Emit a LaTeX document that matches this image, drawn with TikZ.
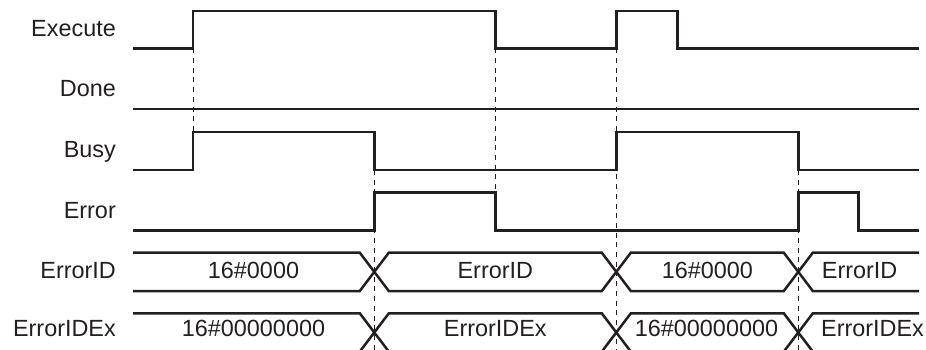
\documentclass[tikz,border=0pt]{standalone}
\usepackage{fontspec}
\setmainfont{Liberation Sans}
\definecolor{ink}{RGB}{35,31,32}
\begin{document}
\begin{tikzpicture}[x=1pt,y=-1pt,
  sig/.style={draw=ink,line width=2.5pt,line join=miter},
  guide/.style={draw=ink,line width=1pt,dash pattern=on 5pt off 4.7pt},
  lbl/.style={anchor=base east,inner sep=0pt,text=ink,font=\fontsize{23.4}{28}\selectfont},
  val/.style={anchor=base,inner sep=0pt,text=ink,font=\fontsize{23.4}{28}\selectfont},
  valw/.style={val,anchor=base west}]
\useasboundingbox (0,0) rectangle (926,349);
\clip (0,0) rectangle (926,349);

% guide lines
\draw[guide] (193,48.3) -- (193,132);
\draw[guide] (374.3,170) -- (374.3,352);
\draw[guide] (495.7,48.3) -- (495.7,192.7);
\draw[guide] (616.3,48.3) -- (616.3,352);
\draw[guide] (798.3,170) -- (798.3,352);

% labels
\node[lbl] (lExecute) at (116,36) {Execute};
\node[lbl] (lDone) at (116,96) {Done};
\node[lbl] (lBusy) at (116,157) {Busy};
\node[lbl] (lError) at (116,218.3) {Error};
\node[lbl] (lErrorID) at (116,278.3) {ErrorID};
\node[lbl] (lErrorIDEx) at (116,336.7) {ErrorIDEx};

% bit signals
\draw[sig] (133,48.3) -| (193,11) -| (495.7,48.3) -| (616.3,11) -| (677.3,48.3) -- (919,48.3);
\draw[sig] (133,109) -- (919,109);
\draw[sig] (133,170) -| (193,132) -| (374.3,170) -| (616.3,132) -| (798.3,170) -- (919,170);
\draw[sig] (133,230.3) -| (374.3,192.7) -| (495.7,230.3) -| (798.3,192.7) -| (858.7,230.3) -- (919,230.3);

% ErrorID bus
\draw[sig] (133,252.7) -- (359.8,252.7) -- (388.8,291) -- (601.8,291) -- (630.8,252.7) -- (783.8,252.7) -- (812.8,291) -- (919,291);
\draw[sig] (133,291) -- (359.8,291) -- (388.8,252.7) -- (601.8,252.7) -- (630.8,291) -- (783.8,291) -- (812.8,252.7) -- (919,252.7);
\node[val] (v1) at (253.5,278.3) {16\#0000};
\node[val] (v2) at (495.3,278.3) {ErrorID};
\node[val] (v3) at (707.3,278.3) {16\#0000};
\node[valw] (v4) at (821.7,278.3) {ErrorID};

% ErrorIDEx bus
\draw[sig] (133,313.3) -- (359.8,313.3) -- (388.8,351.6) -- (601.8,351.6) -- (630.8,313.3) -- (783.8,313.3) -- (812.8,351.6) -- (919,351.6);
\draw[sig] (133,351.6) -- (359.8,351.6) -- (388.8,313.3) -- (601.8,313.3) -- (630.8,351.6) -- (783.8,351.6) -- (812.8,313.3) -- (919,313.3);
\node[val] (w1) at (253.5,336.7) {16\#00000000};
\node[val] (w2) at (495.3,336.7) {ErrorIDEx};
\node[val] (w3) at (706.5,336.7) {16\#00000000};
\node[valw] (w4) at (821,336.7) {ErrorIDEx};
\end{tikzpicture}
\end{document}
